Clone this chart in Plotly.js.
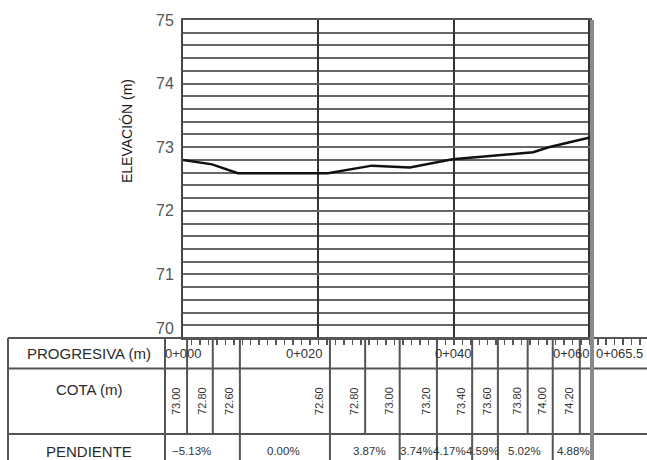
<!DOCTYPE html>
<html><head><meta charset="utf-8">
<script src="https://cdn.plot.ly/plotly-3.0.1.min.js"></script>
<style>html,body{margin:0;padding:0;background:#fff}</style>
</head><body><div id="chart" style="width:647px;height:460px"></div>
<script>
// ---- data ----
const profStations = [0, 4.3, 8.1, 21.4, 27.9, 33.5, 39.8, 51.7, 54.0, 60.4];
const profElev     = [72.80, 72.73, 72.59, 72.59, 72.71, 72.68, 72.81, 72.92, 73.00, 73.16];
const yTickVals = [71, 72, 73, 74, 75];
const progLabels   = ['0+000', '0+020', '0+040', '0+060', '0+065.5'];
const progStations = [0, 18.0, 40.0, 57.3, 64.4];
const cotaLabels   = ['73.00','72.80','72.60','72.60','72.80','73.00','73.20','73.40','73.60','73.80','74.00','74.20'];
const cotaStations = [0.6, 4.4, 8.4, 21.7, 26.9, 32.0, 37.5, 42.7, 46.5, 50.9, 54.6, 58.6];
const slopeBreaks  = [8.4, 21.7, 32.0, 37.5, 42.7, 46.5, 54.6, 60.4];
const slopeLabels  = ['\u22125.13%', '0.00%', '3.87%', '3.74%', '4.17%', '4.59%', '5.02%', '4.88%'];
const slopeLabelStations = [1.3, 14.9, 27.6, 34.5, 39.4, 44.3, 50.5, 57.7];
const rowTitles = ['PROGRESIVA (m)', 'COTA (m)', 'PENDIENTE'];

// ---- layout geometry (pixels) ----
const W = 647, H = 460;
const plotL = 183, plotR = 592, plotT = 20, tableT = 338, row1B = 368.5, row2B = 434;
const tableL = 8, titleDiv = 165;
const xMax = 60.4;
const pxm = (plotR - plotL) / xMax;
const x2Max = (W - plotL) / pxm;
const px = v => v / W;           // x pixel -> paper
const py = v => (H - v) / H;     // y pixel -> paper

const FONT = 'Liberation Sans, Arial, sans-serif';
const LC = '#555';
const LW = 2;

const shapes = [];
[tableT, row1B, row2B].forEach(y => shapes.push({type:'line', xref:'paper', yref:'paper',
  x0: px(tableL), x1: 1, y0: py(y), y1: py(y), line:{color:LC, width:LW}}));
[tableL, titleDiv].forEach(x => shapes.push({type:'line', xref:'paper', yref:'paper',
  x0: px(x), x1: px(x), y0: py(tableT), y1: 0, line:{color:LC, width:LW}}));
cotaStations.forEach(s => {
  const full = slopeBreaks.indexOf(s) >= 0;
  shapes.push({type:'line', xref:'x2', yref:'paper', x0:s, x1:s, y0: py(tableT), y1: full ? 0 : py(row2B),
    line:{color:LC, width:LW}});
});
slopeBreaks.forEach(s => {
  if (cotaStations.indexOf(s) < 0 && s !== xMax) {
    shapes.push({type:'line', xref:'x2', yref:'paper', x0:s, x1:s, y0: py(tableT), y1: 0, line:{color:LC, width:LW}});
  }
});
shapes.push({type:'line', xref:'x2', yref:'paper', x0:xMax, x1:xMax, y0: py(plotT), y1: 0,
  line:{color:'#8a8a8a', width:4}});

const annotations = [];
const titleY = [353, 389, 451];
rowTitles.forEach((t, i) => annotations.push({text:t, xref:'paper', yref:'paper',
  x: px((tableL + titleDiv) / 2 + 2), y: py(titleY[i]), showarrow:false, xanchor:'center', yanchor:'middle',
  font:{family:FONT, size:15, color:'#2a2a2a'}}));
progLabels.forEach((t, i) => annotations.push({text:t, xref:'x2', yref:'paper', x: progStations[i],
  y: py(353), showarrow:false, xanchor:'center', yanchor:'middle', font:{family:FONT, size:13, color:'#333'}}));
cotaLabels.forEach((t, i) => annotations.push({text:t, xref:'x2', yref:'paper', x: cotaStations[i], xshift:-11,
  y: py(401), showarrow:false, textangle:-90, xanchor:'center', yanchor:'middle', font:{family:FONT, size:11, color:'#333'}}));
slopeLabels.forEach((t, i) => annotations.push({text:t, xref:'x2', yref:'paper', x: slopeLabelStations[i],
  y: py(451), showarrow:false, xanchor:'center', yanchor:'middle', font:{family:FONT, size:11.5, color:'#333'}}));
annotations.push({text:'70', xref:'paper', yref:'y', x: px(plotL), xshift:-7, y:70, yshift:10,
  showarrow:false, xanchor:'right', yanchor:'middle', font:{family:FONT, size:16, color:'#555'}});
annotations.push({text:'ELEVACIÓN (m)', xref:'paper', yref:'paper', x: px(127), y: py(131),
  showarrow:false, textangle:-90, xanchor:'center', yanchor:'middle', font:{family:FONT, size:14, color:'#1a1a1a'}});

const traces = [
  {type:'scatter', mode:'lines', x: profStations, y: profElev, xaxis:'x', yaxis:'y',
   line:{color:'#111', width:2.5}, hoverinfo:'skip'},
  {type:'scatter', mode:'markers', x: progStations, y: progStations.map(() => 0.5), xaxis:'x2', yaxis:'y2',
   marker:{opacity:0}, hoverinfo:'skip'}
];

const layout = {
  width: W, height: H, margin:{l:0, r:0, t:0, b:0}, paper_bgcolor:'#fff', plot_bgcolor:'rgba(0,0,0,0)',
  showlegend:false,
  xaxis: {domain:[px(plotL), px(plotR)], range:[0, xMax], anchor:'y', dtick:20, tick0:0,
    showgrid:true, gridcolor:'#333', gridwidth:2, zeroline:false, showticklabels:false, ticks:'',
    showline:true, mirror:true, linecolor:'#555', linewidth:2, fixedrange:true},
  yaxis: {domain:[py(tableT), py(plotT)], range:[70, 75], anchor:'x', tickvals: yTickVals,
    showgrid:true, gridcolor:'#666', gridwidth:2, zeroline:false,
    minor:{dtick:0.2, tick0:70, showgrid:true, gridcolor:'#666', gridwidth:2},
    ticks:'outside', ticklen:4, tickcolor:'rgba(0,0,0,0)', showline:true, linecolor:'#444', linewidth:2,
    tickfont:{family:FONT, size:16, color:'#555'}, fixedrange:true},
  xaxis2: {domain:[px(plotL), 1], range:[0, x2Max], anchor:'y2', side:'top', ticks:'inside', ticklen:7,
    tickwidth:1.5, tickcolor:'#555', dtick:1.25, tick0:0, showgrid:false, zeroline:false,
    showticklabels:false, showline:false, fixedrange:true},
  yaxis2: {domain:[0, py(tableT)], range:[0, 1], anchor:'x2', visible:false, fixedrange:true},
  shapes: shapes,
  annotations: annotations
};

Plotly.newPlot('chart', traces, layout, {staticPlot:true, displayModeBar:false});
</script></body></html>
